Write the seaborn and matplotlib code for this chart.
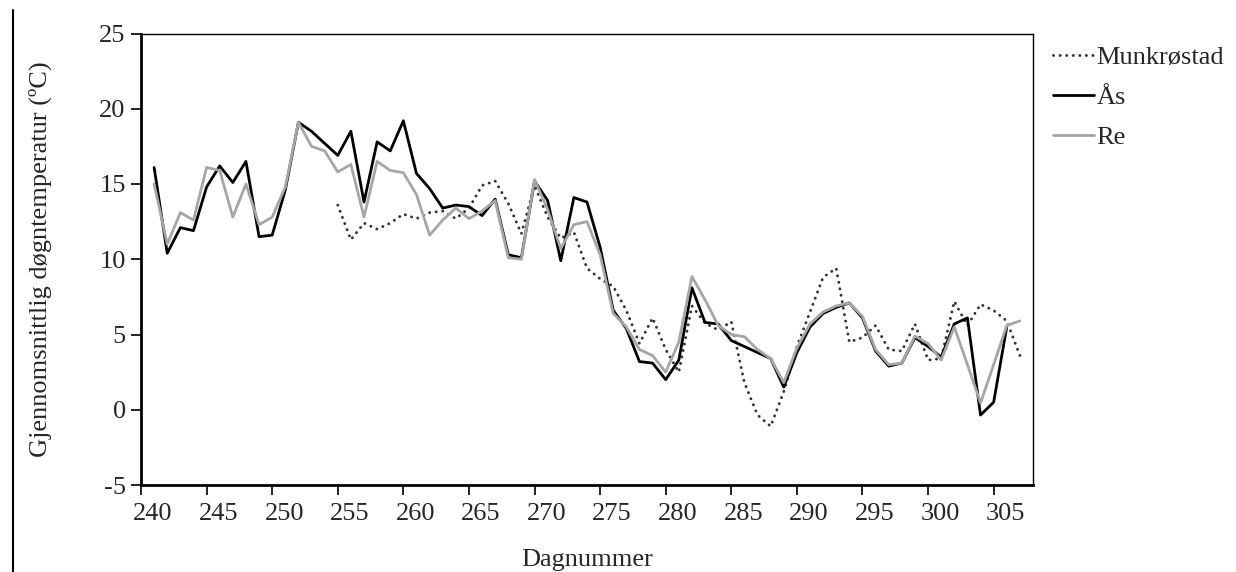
import numpy as np
import pandas as pd
import matplotlib
matplotlib.use("Agg")
import matplotlib.pyplot as plt
import matplotlib.transforms as mtransforms
from matplotlib.lines import Line2D
import seaborn as sns

# ---- data ----
days_as = list(range(241, 307))
aas = [16.1, 10.4, 12.1, 11.9, 14.8, 16.2, 15.1, 16.5, 11.5, 11.6,
       14.6, 19.1, 18.5, 17.7, 16.9, 18.5, 13.8, 17.8, 17.2, 19.2,
       15.7, 14.7, 13.4, 13.6, 13.5, 12.9, 14.0, 10.3, 10.1, 15.2,
       13.9, 9.9, 14.1, 13.8, 10.8, 6.6, 5.4, 3.2, 3.1, 2.0,
       3.3, 8.1, 5.8, 5.7, 4.6, 4.2, 3.8, 3.4, 1.5, 3.8,
       5.5, 6.4, 6.8, 7.1, 6.1, 3.9, 2.9, 3.1, 4.8, 4.2,
       3.5, 5.7, 6.1, -0.35, 0.5, 5.5]

days_re = list(range(241, 308))
re_ = [15.0, 11.0, 13.1, 12.6, 16.1, 15.9, 12.8, 15.0, 12.3, 12.8,
       14.8, 19.1, 17.5, 17.2, 15.8, 16.3, 12.8, 16.5, 15.9, 15.75,
       14.3, 11.6, 12.6, 13.4, 12.7, 13.2, 13.9, 10.1, 10.0, 15.3,
       13.3, 10.7, 12.3, 12.5, 10.3, 6.4, 5.5, 4.0, 3.6, 2.5,
       4.5, 8.85, 7.3, 5.6, 5.0, 4.85, 4.0, 3.4, 1.8, 4.1,
       5.7, 6.5, 6.9, 7.1, 6.2, 4.0, 3.0, 3.1, 4.9, 4.4,
       3.3, 5.5, 3.0, 0.45, 3.0, 5.6, 5.9]

days_mu = list(range(255, 308))
munk = [13.6, 11.3, 12.4, 12.0, 12.4, 13.0, 12.7, 13.1, 13.2, 12.7,
        13.4, 14.9, 15.2, 13.7, 11.7, 14.9, 12.8, 11.4, 11.8, 9.4,
        8.7, 8.2, 6.6, 4.4, 6.1, 4.0, 2.5, 6.9, 5.75, 5.3,
        5.85, 1.8, -0.35, -1.1, 1.2, 4.2, 6.5, 8.8, 9.4, 4.5,
        4.8, 5.6, 4.0, 3.9, 5.7, 3.3, 3.4, 7.2, 5.6, 7.0,
        6.6, 5.9, 3.6]

xticks = list(range(240, 306, 5))
yticks = list(range(-5, 26, 5))

# ---- style ----
sns.set_style("white")
plt.rcParams['font.family'] = ['Liberation Serif', 'DejaVu Serif']
plt.rcParams['axes.unicode_minus'] = False

FS = 19

fig = plt.figure(figsize=(12.36, 5.72), dpi=100)
ax = fig.add_axes([141/1236, 1 - 485/572, (1033 - 141)/1236, (485 - 33.5)/572])

sns.lineplot(x=days_mu, y=munk, ax=ax, color='#333333', lw=2.1,
             linestyle=(0, (0.05, 2.2)), label='Munkrøstad')
sns.lineplot(x=days_as, y=aas, ax=ax, color='black', lw=2.0, label='Ås')
sns.lineplot(x=days_re, y=re_, ax=ax, color='#a6a6a6', lw=2.0, label='Re')
ax.get_lines()[0].set_dash_capstyle('round')

ax.set_xlim(240, 308)
ax.set_ylim(-5, 25)
ax.set_xticks(xticks)
ax.set_yticks(yticks)
ax.tick_params(axis='both', which='both', direction='out', length=7, width=1.2,
               color='black', labelsize=FS, pad=4, left=True, bottom=True)
ax.tick_params(axis='x', pad=6)

for side in ['left', 'bottom']:
    ax.spines[side].set_linewidth(2.0)
    ax.spines[side].set_color('black')
for side in ['top', 'right']:
    ax.spines[side].set_linewidth(1.0)
    ax.spines[side].set_color('black')
    ax.spines[side].set_visible(True)

# labels are shifted right of their ticks as in the original
offset = mtransforms.ScaledTranslation(12/100, 0, fig.dpi_scale_trans)
for lbl in ax.get_xticklabels():
    lbl.set_transform(lbl.get_transform() + offset)

ax.set_xlabel('Dagnummer', fontsize=FS, labelpad=17)
ax.set_ylabel('Gjennomsnittlig døgntemperatur (ºC)', fontsize=FS, labelpad=34)

leg = ax.legend(loc='upper left', bbox_to_anchor=(1053/1236, 1 - 46/572),
                bbox_transform=fig.transFigure, frameon=False, fontsize=FS,
                handlelength=1.55, handletextpad=0.1, labelspacing=0.62,
                borderpad=0, borderaxespad=0)
for h in leg.get_lines():
    h.set_dash_capstyle('round')

fig.add_artist(Line2D([12.5/1236, 12.5/1236], [0, 1 - 10/572],
                      transform=fig.transFigure, color='black', lw=1.5))

fig.savefig('out.png', dpi=100)
